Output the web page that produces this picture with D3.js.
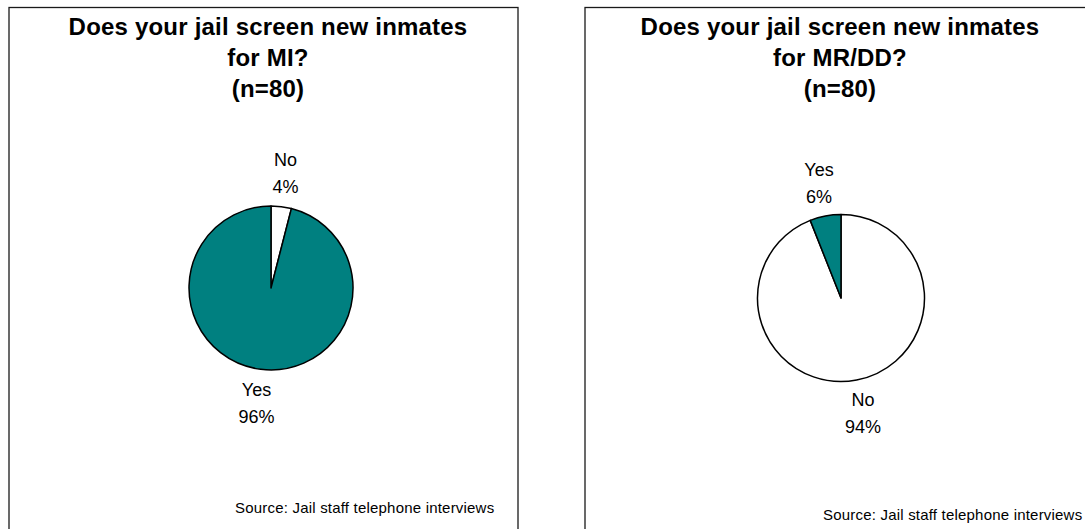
<!DOCTYPE html>
<html>
<head>
<meta charset="utf-8">
<script src="https://cdn.jsdelivr.net/npm/d3@7"></script>
<style>
  html, body { margin: 0; padding: 0; background: #fff; }
  svg { display: block; }
  text { font-family: "Liberation Sans", Arial, sans-serif; fill: #000; }
</style>
</head>
<body>
<svg id="chart" width="1085" height="529"></svg>
<script>
// Survey answers, in slice order (clockwise from 12 o'clock)
const categories = ["No", "Yes"];
const miValues = [4, 96];
const mrddValues = [94, 6];

const miTitle = ["Does your jail screen new inmates", "for MI?", "(n=80)"];
const mrddTitle = ["Does your jail screen new inmates", "for MR/DD?", "(n=80)"];
const sourceNote = "Source: Jail staff telephone interviews";

const svg = d3.select("#chart");

const color = d3.scaleOrdinal()
  .domain(categories)
  .range(["#ffffff", "#008080"]);

const pie = d3.pie().sort(null).value(d => d.value);

const panels = [
  { title: miTitle, values: miValues,
    box: { x: 9, y: 7.5, w: 509, h: 540 },
    cx: 271, cy: 288, r: 82, titleX: 268,
    srcX: 235, srcY: 513 },
  { title: mrddTitle, values: mrddValues,
    box: { x: 585, y: 7.5, w: 509, h: 540 },
    cx: 841, cy: 298, r: 83.5, titleX: 840,
    srcX: 823, srcY: 520 }
];

panels.forEach(p => {
  const g = svg.append("g");

  // frame
  g.append("rect")
    .attr("x", p.box.x).attr("y", p.box.y)
    .attr("width", p.box.w).attr("height", p.box.h)
    .attr("fill", "none")
    .attr("stroke", "#1a1a1a")
    .attr("stroke-width", 1.3);

  // title, three centred lines
  g.append("g").selectAll("text")
    .data(p.title)
    .join("text")
    .attr("x", p.titleX)
    .attr("y", (d, i) => 35 + i * 31)
    .attr("text-anchor", "middle")
    .attr("font-size", 24)
    .attr("font-weight", "bold")
    .attr("letter-spacing", 0.2)
    .text(d => d);

  const data = categories.map((c, i) => ({ label: c, value: p.values[i] }));
  const arcs = pie(data);
  const arc = d3.arc().innerRadius(0).outerRadius(p.r);

  const pieG = g.append("g").attr("transform", `translate(${p.cx},${p.cy})`);
  pieG.selectAll("path")
    .data(arcs)
    .join("path")
    .attr("d", arc)
    .attr("fill", d => color(d.data.label))
    .attr("stroke", "#000")
    .attr("stroke-width", 1.5)
    .attr("stroke-linejoin", "round");

  // category + percentage labels outside each slice
  const labelR = p.r + 34;
  const lab = pieG.selectAll("g.lab")
    .data(arcs)
    .join("g")
    .attr("class", "lab")
    .attr("transform", d => {
      const a = (d.startAngle + d.endAngle) / 2;
      return `translate(${labelR * Math.sin(a)},${-labelR * Math.cos(a)})`;
    });
  lab.append("text")
    .attr("y", -7)
    .attr("text-anchor", "middle")
    .attr("font-size", 18)
    .text(d => d.data.label);
  lab.append("text")
    .attr("y", 20)
    .attr("text-anchor", "middle")
    .attr("font-size", 18)
    .text(d => d.data.value + "%");

  g.append("text")
    .attr("x", p.srcX).attr("y", p.srcY)
    .attr("font-size", 15)
    .attr("letter-spacing", 0.2)
    .text(sourceNote);
});
</script>
</body>
</html>
